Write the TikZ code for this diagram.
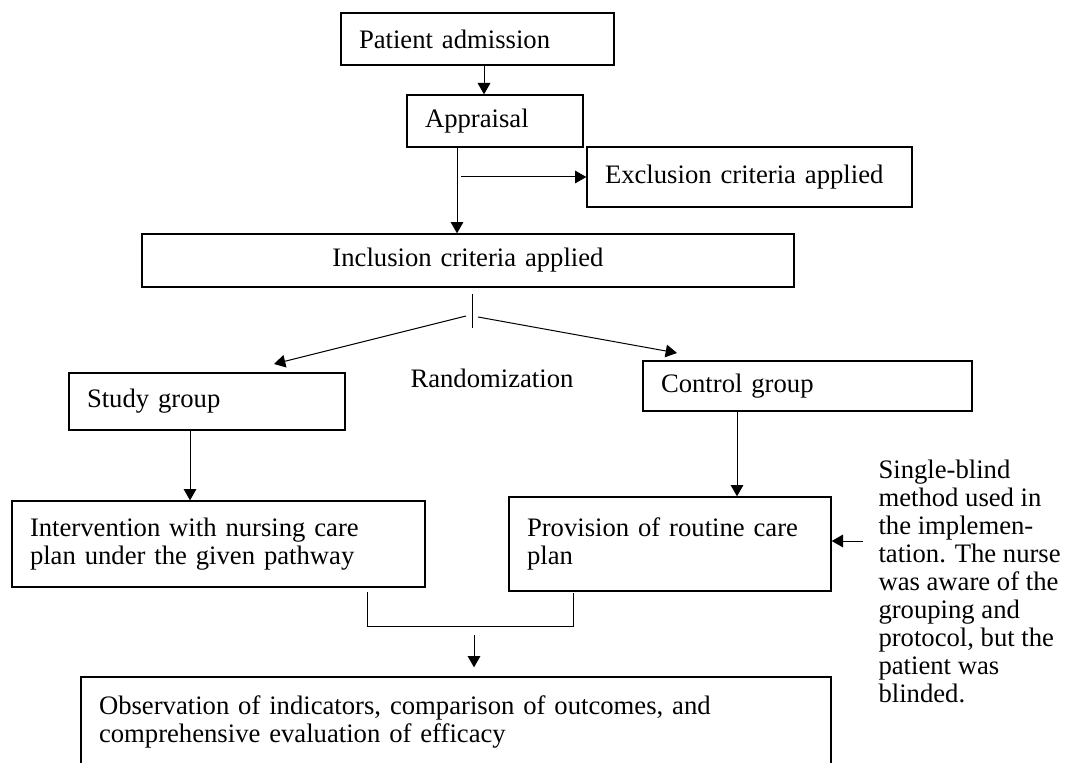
\documentclass[tikz,border=0pt]{standalone}
\usepackage{fontspec}
\setmainfont{Liberation Serif}
\usetikzlibrary{arrows.meta}

\begin{document}
\begin{tikzpicture}[x=0.75pt,y=-0.75pt,>={Triangle[length=8.5pt,width=9.5pt]},
      line width=0.75pt,
      flow box/.style={draw,line width=1pt,font=\fontsize{20}{21}\selectfont,
        inner xsep=13.5pt,inner ysep=0pt,align=left},
      side text/.style={font=\fontsize{20}{21}\selectfont,inner sep=0pt,align=left}]

    \clip (0,0) rectangle (1067,763);

    \node[flow box,text width=177.75pt,minimum height=39pt] (admission) at (477.5,39) {Patient admission};
    \node[flow box,text width=105pt,minimum height=39pt] (appraisal) at (495,121) {Appraisal};
    \node[flow box,text width=216.75pt,minimum height=45pt] (exclusion) at (749.5,177) {Exclusion criteria applied};
    \node[flow box,text width=462pt,minimum height=39.75pt,align=center] (inclusion) at (468,260.5) {Inclusion criteria applied};
    \node[flow box,text width=180pt,minimum height=42.75pt] (study) at (207,401.5) {Study group};
    \node[flow box,text width=219.75pt,minimum height=37.5pt] (control) at (807.5,386) {Control group};
    \node[flow box,text width=282.75pt,minimum height=64.5pt] (intervention) at (218.5,544)
      {Intervention with nursing care\\plan under the given pathway};
    \node[flow box,text width=214.5pt,minimum height=70.5pt] (provision) at (670,544)
      {Provision of routine care\\plan};
    \node[flow box,text width=535.5pt,minimum height=67.5pt] (observation) at (456,722)
      {Observation of indicators, comparison of outcomes, and\\comprehensive evaluation of efficacy};

    \node[side text,anchor=base west] (random) at (410,387) {Randomization};
    \node[side text,anchor=north west] (blind) at (878,459)
      {Single-blind\\method used in\\the implemen-\\tation. The nurse\\was aware of the\\grouping and\\protocol, but the\\patient was\\blinded.};

    \coordinate (exclTail) at (461,177);
    \coordinate (randTop) at (472,294);
    \coordinate (randBot) at (472,328);
    \coordinate (randL) at (466,316);
    \coordinate (randR) at (478,317);
    \coordinate (studyTip) at (274,364);
    \coordinate (controlTip) at (677,353);
    \coordinate (blindTail) at (863,541);
    \coordinate (mergeL) at (367,592);
    \coordinate (mergeR) at (573,593);
    \coordinate (mergeY) at (0,626);
    \coordinate (obsTail) at (474,635);

    \draw[->] ([xshift=4.875pt]admission.south) -- ([xshift=-8.25pt]appraisal.north);
    \draw[->] ([xshift=-28.5pt]appraisal.south) -- ([xshift=-28.5pt]appraisal.south |- inclusion.north);
    \draw[->] (exclTail) -- (exclusion.west);

    % randomization split
    \draw (randTop) -- (randBot);
    \draw[->] (randL) -- (studyTip);
    \draw[->] (randR) -- (controlTip);

    \draw[->] ([xshift=-12.75pt]study.south) -- ([xshift=-12.75pt]study.south |- intervention.north);
    \draw[->] ([xshift=-52.875pt]control.south) -- ([xshift=-52.875pt]control.south |- provision.north);
    \draw[->] (blindTail) -- (blindTail -| provision.east);

    % merge of both arms
    \draw (mergeL) -- (mergeL |- mergeY) -- (mergeR |- mergeY) -- (mergeR);
    \draw[->,shorten >=6.75pt] (obsTail) -- (obsTail |- observation.north);
\end{tikzpicture}
\end{document}
